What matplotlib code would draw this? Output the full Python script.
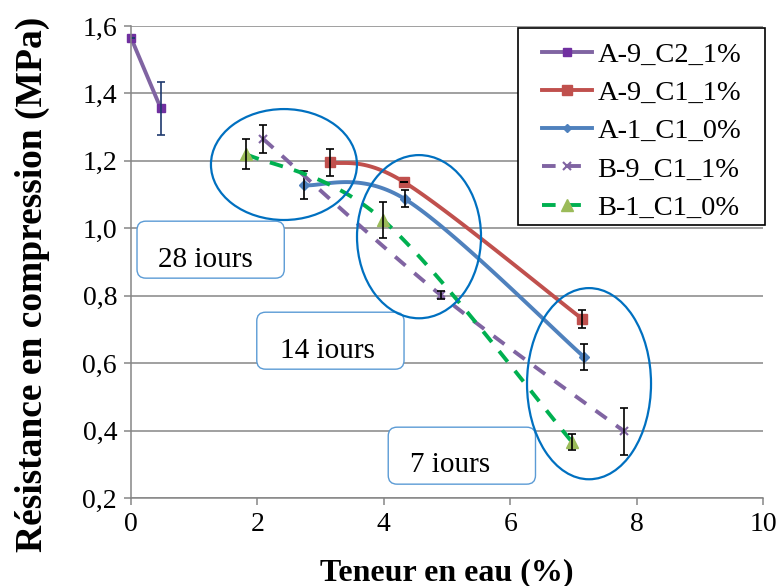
import numpy as np
import matplotlib
matplotlib.use("Agg")
import matplotlib.pyplot as plt
from matplotlib.patches import Ellipse, FancyBboxPatch, Rectangle
from matplotlib.lines import Line2D

plt.rcParams['font.family'] = 'serif'
plt.rcParams['font.serif'] = ['Liberation Serif', 'DejaVu Serif']
FONT = 'Liberation Serif'

# data (water content %, compressive strength MPa, error)
series_names = ["A-9_C2_1%", "A-9_C1_1%", "A-1_C1_0%", "B-9_C1_1%", "B-1_C1_0%"]

a9c2_x = [0.0, 0.47]
a9c2_y = [1.565, 1.356]
a9c2_err = [0.0, 0.078]

a9c1_x = [3.15, 4.32, 7.14]
a9c1_y = [1.196, 1.137, 0.731]
a9c1_err = [0.04, 0.0, 0.028]

a1c1_x = [2.74, 4.33, 7.17]
a1c1_y = [1.128, 1.087, 0.618]
a1c1_err = [0.042, 0.025, 0.039]

b9c1_x = [2.09, 4.9, 7.8]
b9c1_y = [1.265, 0.802, 0.398]
b9c1_err = [0.042, 0.012, 0.07]

b1c1_x = [1.82, 3.99, 6.98]
b1c1_y = [1.22, 1.024, 0.366]
b1c1_err = [0.045, 0.053, 0.025]

xticks = [0, 2, 4, 6, 8, 10]
yticks = [0.2, 0.4, 0.6, 0.8, 1.0, 1.2, 1.4, 1.6]
ytick_labels = ["0,2", "0,4", "0,6", "0,8", "1,0", "1,2", "1,4", "1,6"]

age_labels = ["28 iours", "14 iours", "7 iours"]
age_text_x = [0.43, 2.36, 4.42]
age_text_y = [0.885, 0.615, 0.277]
age_box_x = [0.095, 1.99, 4.07]
age_box_y = [0.852, 0.582, 0.241]
box_w = 2.33
box_h = 0.169

ell_cx = [2.42, 4.557, 7.247]
ell_cy = [1.189, 0.975, 0.539]
ell_w = [2.31, 1.962, 1.962]
ell_h = [0.329, 0.484, 0.567]

# excel-like smoothed line (bezier through points, in screen-ish units)
SX, SY = 63.2, 337.0


def smooth(x, y, n=40):
    p = np.column_stack([np.array(x) * SX, np.array(y) * SY])
    if len(p) < 3:
        return np.array(x), np.array(y)
    pts = []
    for i in range(len(p) - 1):
        p0 = p[max(i - 1, 0)]
        p1 = p[i]
        p2 = p[i + 1]
        p3 = p[min(i + 2, len(p) - 1)]
        c1 = p1 + (p2 - p0) / 6
        c2 = p2 - (p3 - p1) / 6
        t = np.linspace(0, 1, n)[:, None]
        b = (1 - t) ** 3 * p1 + 3 * (1 - t) ** 2 * t * c1 + 3 * (1 - t) * t ** 2 * c2 + t ** 3 * p2
        pts.append(b)
    pts = np.vstack(pts)
    return pts[:, 0] / SX, pts[:, 1] / SY


fig = plt.figure(figsize=(7.77, 5.86), dpi=100)
ax = fig.add_axes([0.1686, 0.1502, 0.8134, 0.8055])

ax.set_xlim(0, 10)
ax.set_ylim(0.2, 1.6)
ax.set_yticks(yticks)
ax.set_yticklabels(ytick_labels, fontfamily=FONT, fontsize=20)
ax.set_xticks(xticks)
ax.set_xticklabels([str(v) for v in xticks], fontfamily=FONT, fontsize=20)
ax.grid(axis='y', color='#868686', lw=1.1)
ax.set_axisbelow(True)
for s in ['top', 'right']:
    ax.spines[s].set_visible(False)
for s in ['left', 'bottom']:
    ax.spines[s].set_color('#868686')
    ax.spines[s].set_linewidth(1.1)
ax.tick_params(length=5, width=1.1, color='#868686', pad=5)

lw = 2.8
dash = (0, (3.5, 3))

# A-9_C2_1%
ax.plot(a9c2_x, a9c2_y, color='#8064A2', lw=lw, marker='s', ms=6,
        mfc='#7030A0', mec='#7030A0', clip_on=False)
ax.errorbar(a9c2_x, a9c2_y, yerr=a9c2_err, fmt='none', ecolor='#1F3A6E',
            elinewidth=1.2, capsize=3, capthick=1.2)

# A-9_C1_1%
sx, sy = smooth(a9c1_x, a9c1_y)
ax.plot(sx, sy, color='#C0504D', lw=lw)
ax.plot(a9c1_x, a9c1_y, ls='none', marker='s', ms=7, color='#C0504D')
ax.errorbar(a9c1_x, a9c1_y, yerr=a9c1_err, fmt='none', ecolor='black',
            elinewidth=1.2, capsize=3, capthick=1.2)

# A-1_C1_0%
sx, sy = smooth(a1c1_x, a1c1_y)
ax.plot(sx, sy, color='#4F81BD', lw=lw)
ax.plot(a1c1_x, a1c1_y, ls='none', marker='D', ms=5, color='#4F81BD')
ax.errorbar(a1c1_x, a1c1_y, yerr=a1c1_err, fmt='none', ecolor='black',
            elinewidth=1.2, capsize=3, capthick=1.2)

# B-9_C1_1%
sx, sy = smooth(b9c1_x, b9c1_y)
ax.plot(sx, sy, color='#8064A2', lw=lw, ls=dash)
ax.plot(b9c1_x, b9c1_y, ls='none', marker='x', ms=6, mew=1.5, color='#8064A2')
ax.errorbar(b9c1_x, b9c1_y, yerr=b9c1_err, fmt='none', ecolor='black',
            elinewidth=1.2, capsize=3, capthick=1.2)

# B-1_C1_0%
sx, sy = smooth(b1c1_x, b1c1_y)
ax.plot(sx, sy, color='#00B050', lw=lw, ls=dash)
ax.plot(b1c1_x, b1c1_y, ls='none', marker='^', ms=8, color='#9BBB59')
ax.errorbar(b1c1_x, b1c1_y, yerr=b1c1_err, fmt='none', ecolor='black',
            elinewidth=1.2, capsize=3, capthick=1.2)

# ellipses grouping the ages
for cx, cy, w, h in zip(ell_cx, ell_cy, ell_w, ell_h):
    ax.add_patch(Ellipse((cx, cy), w, h, fill=False, ec='#0070C0', lw=1.6, zorder=5))

# age boxes
for lab, tx, ty, bx, by in zip(age_labels, age_text_x, age_text_y, age_box_x, age_box_y):
    ax.add_patch(FancyBboxPatch((bx, by), box_w, box_h,
                                boxstyle='round,pad=0,rounding_size=0.14',
                                mutation_aspect=SX / SY, fc='white', ec='#5B9BD5',
                                lw=1.0, zorder=4))
    ax.text(tx, ty, lab, fontsize=21, fontfamily=FONT, ha='left', va='baseline', zorder=6)

# legend (frame drawn by hand so the padding matches)
W, H = 777, 586
fig.patches.append(Rectangle((518 / W, 1 - 225 / H), 247 / W, 197 / H,
                             transform=fig.transFigure, fc='white', ec='black',
                             lw=1.2, zorder=3))
handles = [
    Line2D([], [], color='#8064A2', lw=lw, marker='s', ms=6, mfc='#7030A0', mec='#7030A0'),
    Line2D([], [], color='#C0504D', lw=lw, marker='s', ms=7),
    Line2D([], [], color='#4F81BD', lw=lw, marker='D', ms=4),
    Line2D([], [], color='#8064A2', lw=lw, ls=dash, marker='x', ms=6, mew=1.5),
    Line2D([], [], color='#00B050', lw=lw, ls=dash, marker='^', ms=8, mfc='#9BBB59', mec='#9BBB59'),
]
leg = fig.legend(handles, series_names, loc='upper left',
                 bbox_to_anchor=(542 / W, 1 - 42 / H),
                 prop={'family': FONT, 'size': 20.5},
                 frameon=False, handlelength=1.75, handletextpad=0.2,
                 labelspacing=0.43, borderpad=0, borderaxespad=0)
leg.set_zorder(4)

ax.set_xlabel("Teneur en eau (%)", fontsize=23, fontweight='bold', fontfamily=FONT)
ax.set_ylabel("Résistance en compression (MPa)", fontsize=27, fontweight='bold', fontfamily=FONT)
ax.xaxis.set_label_coords(0.5, -0.128)
ax.yaxis.set_label_coords(-0.128, 0.452)

fig.savefig("out.png", dpi=100)
